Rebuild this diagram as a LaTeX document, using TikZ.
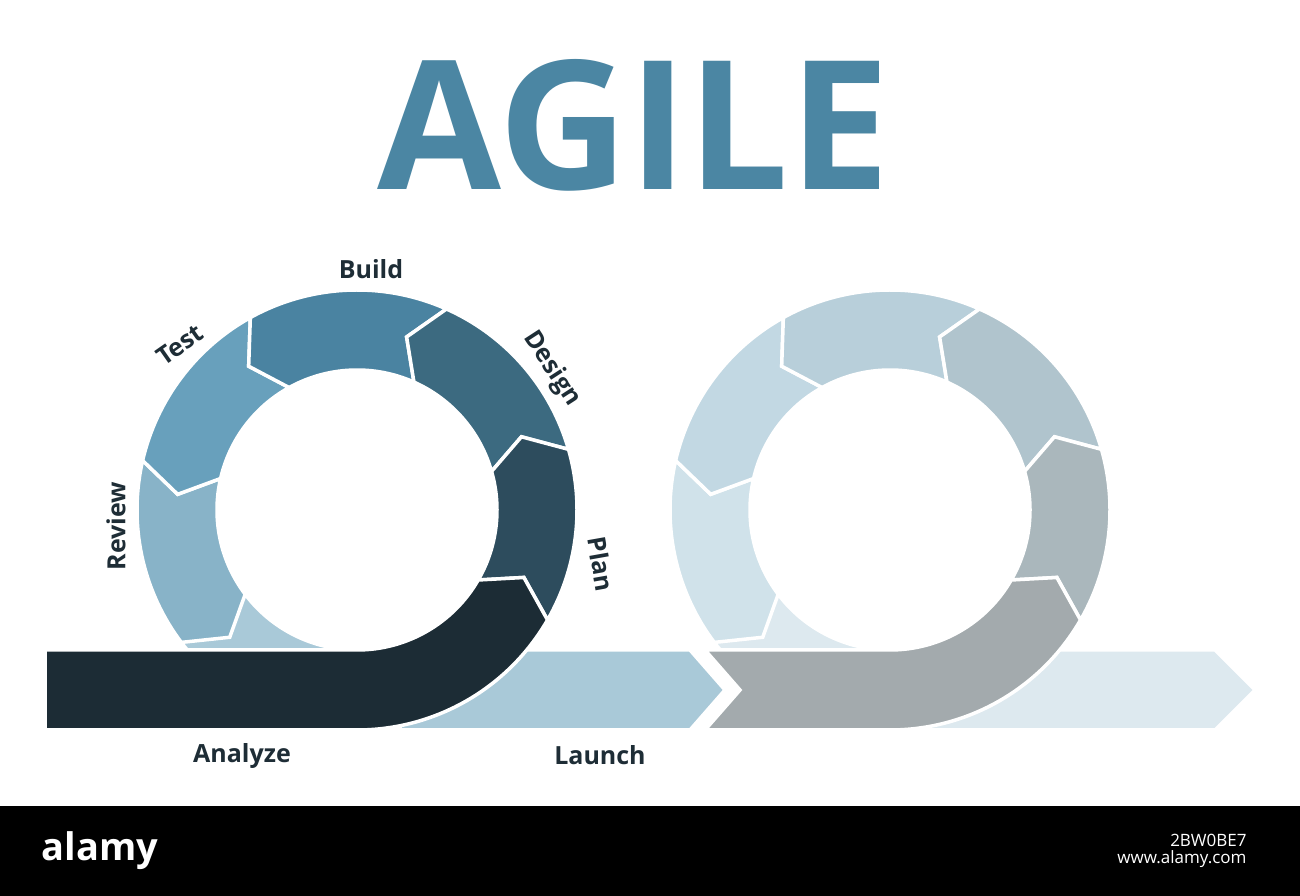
\documentclass[tikz,border=0pt]{standalone}
\usepackage{fontspec}
\setmainfont{Open Sans}
\begin{document}
\begin{tikzpicture}[x=1pt,y=1pt,
  lab/.style={font=\bfseries\fontsize{25}{25}\selectfont, text=lbl},
  seg/.style={draw=white,line width=3.5pt,line join=miter}]
\definecolor{lbl}{HTML}{1E2D36}
\definecolor{ttl}{HTML}{4B86A3}
\definecolor{cA}{HTML}{1C2C35}\definecolor{cP}{HTML}{2D4C5D}\definecolor{cD}{HTML}{3C6A80}
\definecolor{cB}{HTML}{4A83A1}\definecolor{cT}{HTML}{68A0BC}\definecolor{cR}{HTML}{88B3C8}
\definecolor{cL}{HTML}{A9C9D8}
\definecolor{gA}{HTML}{A3AAAD}\definecolor{gP}{HTML}{AAB7BC}\definecolor{gD}{HTML}{B0C4CD}
\definecolor{gB}{HTML}{B8CFDA}\definecolor{gT}{HTML}{C2D8E3}\definecolor{gR}{HTML}{D0E2EA}
\definecolor{gL}{HTML}{DDE9EF}
\useasboundingbox (0,0) rectangle (1300,896);
\fill[white] (0,0) rectangle (1300,896);
\newcommand\segm[4]{% color, start, end, center x
  \fill[#1,seg,shift={(#4,386)}] (#2:220) arc[start angle=#2,end angle=#3,radius=220]
   -- ({#3+8}:180) -- (#3:140) arc[start angle=#3,end angle=#2,radius=140] -- ({#2+8}:180) -- cycle;}
\node[font=\bfseries, text=ttl] (title) at (634,771) {\resizebox{512pt}{!}{AGILE}};
% right ring
\fill[gL,seg] (890,166) -- (1215,166) -- (1255,206) -- (1215,246) -- (890,246) -- cycle;
\fill[gL,seg,shift={(890,386)}] (217:220) arc[start angle=217,end angle=275,radius=220] -- (275:140) arc[start angle=275,end angle=217,radius=140] -- cycle;
\segm{gR}{167}{217}{890}
\segm{gT}{119}{167}{890}
\segm{gB}{66}{119}{890}
\segm{gD}{16}{66}{890}
\segm{gP}{-30}{16}{890}
\fill[gA,seg] (705,166) -- (890,166) arc[start angle=-90,end angle=-30,radius=220] -- (890+180*0.927,386-180*0.375) -- (890+140*0.866,386-70) arc[start angle=-30,end angle=-90,radius=140] -- (705,246) -- (740,206) -- cycle;
% left ring
\fill[cL,seg] (400,166) -- (690,166) -- (725,206) -- (690,246) -- (400,246) -- cycle;
\fill[cL,seg,shift={(357,386)}] (217:220) arc[start angle=217,end angle=275,radius=220] -- (275:140) arc[start angle=275,end angle=217,radius=140] -- cycle;
\segm{cR}{167}{217}{357}
\segm{cT}{119}{167}{357}
\segm{cB}{66}{119}{357}
\segm{cD}{16}{66}{357}
\segm{cP}{-30}{16}{357}
\fill[cA,seg] (45,166) -- (357,166) arc[start angle=-90,end angle=-30,radius=220] -- (357+180*0.927,386-180*0.375) -- (357+140*0.866,386-70) arc[start angle=-30,end angle=-90,radius=140] -- (45,246) -- cycle;
% labels
\node[lab] (build) at (371,627) {Build};
\node[lab,rotate=35] (test) at (180,551) {Test};
\node[lab,rotate=-57] (design) at (552,527) {Design};
\node[lab,rotate=90] (review) at (116,370) {Review};
\node[lab,rotate=-80] (plan) at (601,332) {Plan};
\node[lab] (analyze) at (242,140) {Analyze};
\node[lab] (launch) at (600,141) {Launch};
% bottom strip
\fill[black] (0,0) rectangle (1300,90);
\node[text=white,font=\bfseries\fontsize{38}{38}\selectfont] (alamy) at (100,45) {alamy};
\node[text=white,anchor=east,font=\fontsize{17}{17}\selectfont,align=right] (code) at (1250,45) {2BW0BE7\\www.alamy.com};
\end{tikzpicture}
\end{document}
